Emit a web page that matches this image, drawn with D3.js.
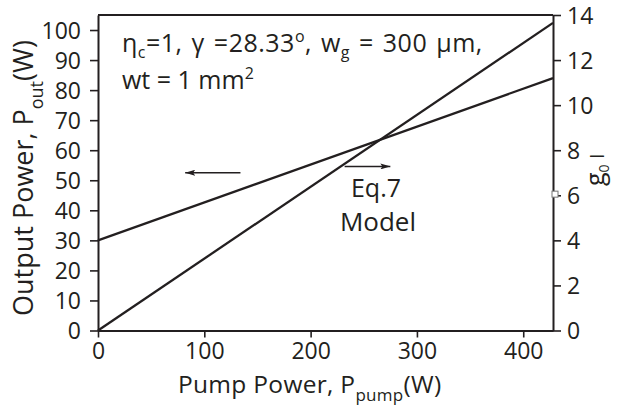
<!DOCTYPE html>
<html><head><meta charset="utf-8">
<script src="https://cdn.jsdelivr.net/npm/d3@7"></script>
<style>
html,body{margin:0;padding:0;background:#fff;}
svg{display:block;}
text{font-family:"Open Sans",sans-serif;fill:#231f20;}
</style></head>
<body><svg id="chart" width="625" height="410"></svg>
<script>
// Data
const pumpPower = [0, 428];
const outputPower = [30, 84];
const gainLength = [0, 13.65];
const xTicks = [0, 100, 200, 300, 400];
const yLeftTicks = [0, 10, 20, 30, 40, 50, 60, 70, 80, 90, 100];
const yRightTicks = [0, 2, 4, 6, 8, 10, 12, 14];
const markerValue = [6.05];

const svg = d3.select("#chart");
const W = 625, H = 410;
const m = {left: 98, right: 72, top: 15, bottom: 79.5};
const x = d3.scaleLinear().domain([0, 428]).range([m.left, W - m.right]);
const yL = d3.scaleLinear().domain([0, 105]).range([H - m.bottom, m.top]);
const yR = d3.scaleLinear().domain([0, 14]).range([H - m.bottom, m.top]);
const ink = "#231f20";

// frame top
svg.append("line").attr("x1", x(0)).attr("x2", x(428)).attr("y1", yL(105)).attr("y2", yL(105))
  .attr("stroke", ink).attr("stroke-width", 2);

function styleAxis(g) {
  g.selectAll("path.domain").attr("stroke", ink).attr("stroke-width", 2);
  g.selectAll(".tick line").attr("stroke", ink).attr("stroke-width", 1.6);
  g.selectAll(".tick text").style("font-family", "'Open Sans',sans-serif").style("font-size", "23px").attr("fill", ink);
}

const gx = svg.append("g").attr("transform", `translate(0,${yL(0)})`)
  .call(d3.axisBottom(x).tickValues(xTicks).tickSizeInner(7).tickSizeOuter(0).tickPadding(5));
styleAxis(gx);

const gl = svg.append("g").attr("transform", `translate(${x(0)},0)`)
  .call(d3.axisLeft(yL).tickValues(yLeftTicks).tickSizeInner(8).tickSizeOuter(0).tickPadding(9));
styleAxis(gl);
gl.selectAll(".tick text").attr("dy", "0.36em");

const gr = svg.append("g").attr("transform", `translate(${x(428)},0)`)
  .call(d3.axisRight(yR).tickValues(yRightTicks).tickSizeInner(8).tickSizeOuter(0).tickPadding(6));
styleAxis(gr);
gr.selectAll(".tick text").attr("dy", "0.36em");

// lines
const line1 = d3.line().x((d, i) => x(pumpPower[i])).y(d => yL(d));
const line2 = d3.line().x((d, i) => x(pumpPower[i])).y(d => yR(d));
svg.append("path").datum(outputPower).attr("d", line1).attr("fill", "none").attr("stroke", ink).attr("stroke-width", 2.3);
svg.append("path").datum(gainLength).attr("d", line2).attr("fill", "none").attr("stroke", ink).attr("stroke-width", 2.3);

// marker on right axis
svg.selectAll("rect.mk").data(markerValue).enter().append("rect").attr("class", "mk")
  .attr("x", x(428) - 1).attr("y", d => yR(d) - 3).attr("width", 6).attr("height", 6)
  .attr("fill", "#fff").attr("stroke", "#777").attr("stroke-width", 1);

// arrows
const defs = svg.append("defs");
defs.append("marker").attr("id", "ah").attr("viewBox", "0 0 10 6").attr("refX", 10).attr("refY", 3)
  .attr("markerWidth", 10).attr("markerHeight", 6).attr("markerUnits", "userSpaceOnUse").attr("orient", "auto")
  .append("path").attr("d", "M0,0 L10,3 L0,6 L2,3 Z").attr("fill", ink);
svg.append("line").attr("x1", x(134)).attr("x2", x(82)).attr("y1", yL(52.5)).attr("y2", yL(52.5))
  .attr("stroke", ink).attr("stroke-width", 1.6).attr("marker-end", "url(#ah)");
svg.append("line").attr("x1", x(232)).attr("x2", x(275)).attr("y1", yL(54.6)).attr("y2", yL(54.6))
  .attr("stroke", ink).attr("stroke-width", 1.6).attr("marker-end", "url(#ah)");

// annotation texts
svg.append("text").attr("x", 376).attr("y", 197).attr("text-anchor", "middle").style("font-size", "25px").text("Eq.7");
svg.append("text").attr("x", 378).attr("y", 231).attr("text-anchor", "middle").style("font-size", "26px").text("Model");

const t1 = svg.append("text").attr("x", 122).attr("y", 52).style("font-size", "25px").style("letter-spacing", "0.5px").style("word-spacing", "2px");
t1.append("tspan").text("η");
t1.append("tspan").attr("dy", 6).style("font-size", "16px").text("c");
t1.append("tspan").attr("dy", -6).text("=1, γ =28.33");
t1.append("tspan").attr("dy", -10).style("font-size", "16px").text("o");
t1.append("tspan").attr("dy", 10).text(", w");
t1.append("tspan").attr("dy", 6).style("font-size", "16px").text("g");
t1.append("tspan").attr("dy", -6).text(" = 300 µm,");

const t2 = svg.append("text").attr("x", 122).attr("y", 89).style("font-size", "25px");
t2.append("tspan").text("wt = 1 mm");
t2.append("tspan").attr("dy", -10).style("font-size", "16px").text("2");

// axis titles
const xt = svg.append("text").attr("x", 178).attr("y", 393).style("font-size", "24.5px").style("letter-spacing", "0.3px");
xt.append("tspan").text("Pump Power, P");
xt.append("tspan").attr("dy", 8).style("font-size", "17px").text("pump");
xt.append("tspan").attr("dy", -8).text("(W)");

const yt = svg.append("text").attr("transform", "translate(33,316) rotate(-90)").style("font-size", "27px");
yt.append("tspan").text("Output Power, P");
yt.append("tspan").attr("dy", 10).style("font-size", "18px").text("out");
yt.append("tspan").attr("dy", -10).text("(W)");

const rt = svg.append("text").attr("transform", "translate(604,186) rotate(-90)").style("font-size", "25px");
rt.append("tspan").text("g");
rt.append("tspan").attr("dy", 5).style("font-size", "14px").text("0");
rt.append("tspan").attr("dy", -5).attr("dx", 6).style("font-size", "18px").text("l");
</script></body></html>
